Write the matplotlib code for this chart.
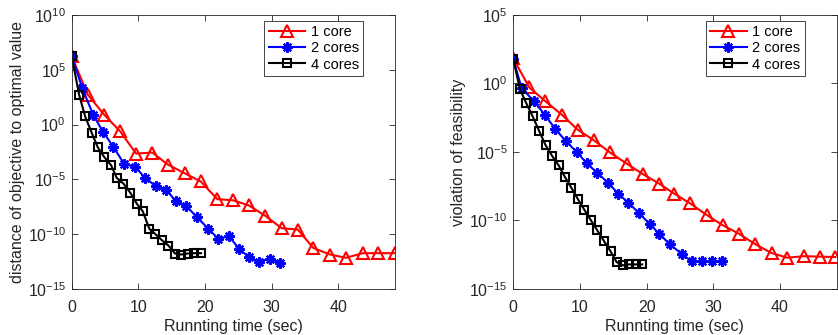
import numpy as np
import matplotlib
matplotlib.use('Agg')
import matplotlib.pyplot as plt

plt.rcParams['font.family'] = ['Liberation Sans', 'DejaVu Sans']
plt.rcParams['mathtext.fontset'] = 'custom'
plt.rcParams['mathtext.rm'] = 'Liberation Sans'
plt.rcParams['mathtext.it'] = 'Liberation Sans'
plt.rcParams['font.size'] = 11.5

# labels
legend_labels = ['1 core', '2 cores', '4 cores']
xlabel = 'Runnting time (sec)'
ylabel_left = 'distance of objective to optimal value'
ylabel_right = 'violation of feasibility'

# left panel: distance to optimal value (log10 of value)
obj_t1 = [0, 2.4, 4.85, 7.25, 9.65, 12.1, 14.4, 17.0, 19.35, 21.85, 24.15, 26.55, 29.05,
          31.5, 33.9, 36.25, 38.75, 41.15, 43.65, 46.0, 48.45]
obj_e1 = [6.24, 2.74, 0.91, -0.61, -2.65, -2.56, -3.65, -4.47, -5.2, -6.82, -6.91, -7.38, -8.34,
          -9.47, -9.59, -11.28, -11.87, -12.17, -11.75, -11.75, -11.75]
obj_t2 = [0, 1.6, 3.24, 4.74, 6.24, 7.89, 9.5, 11.0, 12.65, 14.15, 15.6, 17.1, 18.75,
          20.5, 22.0, 23.6, 25.1, 26.6, 28.1, 29.75, 31.25]
obj_e2 = [6.24, 3.3, 0.85, -0.7, -2.04, -3.62, -3.84, -4.88, -5.63, -5.94, -7.0, -7.4, -8.43,
          -9.53, -10.44, -10.2, -11.35, -12.12, -12.54, -12.24, -12.63]
obj_t4 = [0, 1.1, 2.0, 3.0, 3.9, 4.85, 5.9, 6.75, 7.75, 8.8, 9.75, 10.65, 11.65, 12.5,
          13.5, 14.5, 15.5, 16.45, 17.4, 18.35, 19.4]
obj_e4 = [6.24, 2.74, 0.76, -0.76, -2.07, -2.95, -3.71, -4.87, -5.39, -6.24, -7.22, -7.92,
          -9.53, -9.98, -10.55, -11.05, -11.78, -11.87, -11.78, -11.75, -11.75]

# right panel: violation of feasibility (log10 of value)
feas_t1 = [0, 2.4, 4.75, 7.25, 9.65, 12.1, 14.5, 17.0, 19.4, 21.9, 24.15, 26.5, 29.0,
           31.4, 33.85, 36.3, 38.75, 41.1, 43.6, 46.0, 48.3]
feas_e1 = [1.83, -0.29, -1.27, -2.27, -3.37, -4.15, -5.04, -5.85, -6.61, -7.32, -8.05, -8.75,
           -9.6, -10.35, -10.98, -11.74, -12.39, -12.73, -12.62, -12.65, -12.68]
feas_t2 = [0, 1.25, 3.08, 4.75, 6.25, 7.88, 9.5, 11.0, 12.6, 14.25, 15.75, 17.25, 18.85,
           20.5, 21.9, 23.5, 25.25, 26.75, 28.25, 29.75, 31.25]
feas_e2 = [1.76, -0.33, -1.29, -2.3, -3.29, -4.21, -5.0, -5.82, -6.53, -7.27, -8.05, -8.71,
           -9.46, -10.29, -10.98, -11.76, -12.44, -13.0, -13.0, -13.0, -13.0]
feas_t4 = [0, 1.0, 1.9, 2.9, 3.9, 4.85, 5.8, 6.8, 7.75, 8.7, 9.65, 10.65, 11.65, 12.6,
           13.6, 14.6, 15.5, 16.4, 17.35, 18.35, 19.35]
feas_e4 = [1.78, -0.42, -1.39, -2.39, -3.49, -4.51, -5.27, -5.98, -6.83, -7.61, -8.41, -9.22,
           -10.0, -10.73, -11.51, -12.27, -13.05, -13.29, -13.22, -13.22, -13.22]

gray = '#262626'
styles = [dict(color='#ff0000', marker='^', markersize=8, markerfacecolor='none', markeredgewidth=1.5),
          dict(color='#0000ff', marker=(8, 2, 0), markersize=7.5, markeredgewidth=1.6),
          dict(color='black', marker='s', markersize=6, markerfacecolor='none', markeredgewidth=1.5)]

fig = plt.figure(figsize=(8.38, 3.35), dpi=100)
ax1 = fig.add_axes([0.0856, 0.138, 0.3858, 0.817])
ax2 = fig.add_axes([0.6125, 0.138, 0.3858, 0.817])

panels = [(ax1, [(obj_t1, obj_e1), (obj_t2, obj_e2), (obj_t4, obj_e4)], ylabel_left, (1e-15, 1e10)),
          (ax2, [(feas_t1, feas_e1), (feas_t2, feas_e2), (feas_t4, feas_e4)], ylabel_right, (1e-15, 1e5))]

for ax, series, ylab, ylim in panels:
    for (t, e), lab, st in zip(series, legend_labels, styles):
        ax.semilogy(t, np.power(10.0, e), label=lab, linewidth=1.5, **st)
    ax.set_xlim(0, 48.5)
    ax.set_ylim(*ylim)
    ax.set_xticks([0, 10, 20, 30, 40])
    ax.set_yticks([10.0 ** k for k in range(-15, int(np.log10(ylim[1])) + 1, 5)])
    ax.minorticks_off()
    ax.tick_params(direction='in', top=True, right=True, length=4, width=0.6,
                   colors=gray, labelsize=11.5)
    ax.tick_params(axis='x', pad=8)
    ax.tick_params(axis='y', pad=4)
    for sp in ax.spines.values():
        sp.set_color(gray)
        sp.set_linewidth(0.6)
    ax.set_xlabel(xlabel, color=gray, fontsize=11.5, labelpad=3)
    ax.set_ylabel(ylab, color=gray, fontsize=11.5, labelpad=2)
    leg = ax.legend(loc='upper right', bbox_to_anchor=(0.902, 0.979), borderaxespad=0,
                    fancybox=False, framealpha=1, edgecolor='#262626', fontsize=10.5,
                    handlelength=2.5, handletextpad=0.4, labelspacing=0.15, borderpad=0.3)
    leg.get_frame().set_linewidth(0.6)

fig.savefig('out.png', dpi=100)
